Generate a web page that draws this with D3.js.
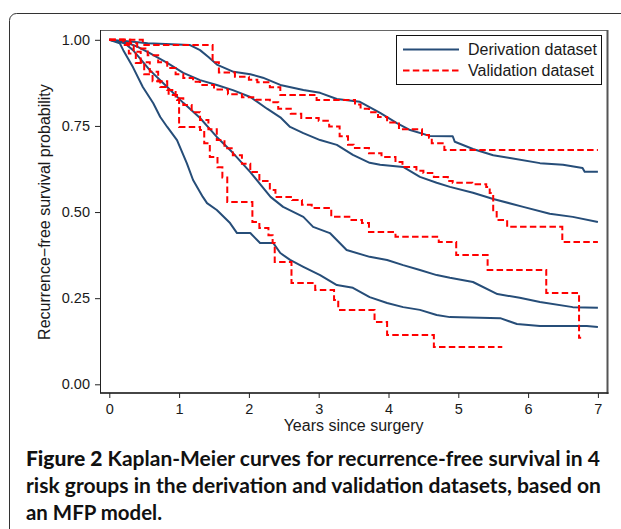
<!DOCTYPE html>
<html>
<head>
<meta charset="utf-8">
<script src="https://cdn.jsdelivr.net/npm/d3@7"></script>
<style>
html,body{margin:0;padding:0;background:#fff;}
svg{display:block;}
</style>
</head>
<body>
<svg id="chart" width="621" height="529"></svg>
<script>
// ---- data ----
const xTicks = [0, 1, 2, 3, 4, 5, 6, 7];
const yTicks = [0, 0.25, 0.5, 0.75, 1];
const seriesNames = ["Derivation dataset", "Validation dataset"];
const xTitle = "Years since surgery";
const yTitle = "Recurrence\u2212free survival probability";
const captionBold = "Figure 2";
const captionLines = [
  " Kaplan-Meier curves for recurrence-free survival in 4",
  "risk groups in the derivation and validation datasets, based on",
  "an MFP model."
];

// Derivation dataset, 4 risk groups: [years, survival]
const deriv1 = [[0,1],[0.3,0.995],[0.55,0.99],[1.15,0.985],[1.3,0.97],[1.42,0.95],[1.55,0.927],[1.78,0.907],[2.02,0.9],[2.2,0.89],[2.45,0.869],[2.78,0.854],[3.02,0.846],[3.26,0.828],[3.59,0.82],[3.88,0.788],[4.12,0.758],[4.31,0.738],[4.59,0.721],[4.92,0.72],[4.95,0.704],[5.21,0.683],[5.5,0.665],[5.74,0.657],[6.17,0.642],[6.5,0.637],[6.78,0.628],[6.81,0.617],[7,0.617]];
const deriv2 = [[0,1],[0.27,0.99],[0.4,0.98],[0.58,0.961],[0.83,0.933],[1.06,0.904],[1.3,0.883],[1.54,0.869],[1.77,0.854],[2.02,0.834],[2.26,0.8],[2.45,0.775],[2.59,0.747],[2.78,0.729],[3.02,0.709],[3.26,0.695],[3.49,0.666],[3.73,0.643],[3.88,0.637],[4.21,0.631],[4.45,0.602],[4.69,0.585],[4.88,0.573],[5.21,0.556],[5.5,0.538],[5.93,0.515],[6.31,0.495],[6.64,0.486],[7,0.471]];
const deriv3 = [[0,1],[0.22,0.99],[0.34,0.97],[0.58,0.912],[0.83,0.863],[1.06,0.817],[1.3,0.773],[1.54,0.718],[1.77,0.672],[2.02,0.616],[2.31,0.544],[2.49,0.515],[2.78,0.486],[2.92,0.457],[3.16,0.439],[3.4,0.39],[3.73,0.37],[3.98,0.361],[4.21,0.346],[4.45,0.332],[4.69,0.317],[4.88,0.309],[5.21,0.297],[5.56,0.262],[5.88,0.251],[6.17,0.239],[6.64,0.224],[7,0.222]];
const deriv4 = [[0,1],[0.15,0.99],[0.2,0.97],[0.34,0.92],[0.48,0.863],[0.63,0.816],[0.73,0.776],[0.83,0.747],[0.97,0.709],[1.11,0.642],[1.2,0.593],[1.34,0.544],[1.4,0.526],[1.54,0.506],[1.73,0.468],[1.83,0.439],[2.02,0.439],[2.16,0.41],[2.35,0.41],[2.45,0.381],[2.59,0.361],[2.78,0.341],[3.02,0.317],[3.26,0.288],[3.49,0.28],[3.73,0.253],[3.98,0.236],[4.21,0.224],[4.45,0.216],[4.69,0.201],[4.88,0.195],[5.6,0.192],[5.84,0.175],[6.17,0.169],[6.84,0.169],[7,0.166]];

// Validation dataset, 4 risk groups: [time of step, survival after step]
const valid1 = [[0,1],[0.48,0.985],[1.48,0.935],[1.57,0.905],[1.8,0.893],[2.0,0.884],[2.12,0.877],[2.3,0.862],[2.45,0.84],[2.97,0.825],[3.52,0.812],[3.6,0.8],[3.72,0.79],[3.85,0.776],[3.98,0.76],[4.15,0.74],[4.48,0.724],[4.58,0.716],[4.62,0.7],[4.8,0.68],[7,0.68]];
const valid2 = [[0,1],[0.3,0.99],[0.4,0.975],[0.55,0.955],[0.7,0.935],[0.83,0.918],[0.95,0.9],[1.06,0.889],[1.2,0.878],[1.3,0.869],[1.5,0.856],[1.7,0.842],[1.9,0.833],[2.1,0.826],[2.3,0.819],[2.42,0.8],[2.6,0.785],[2.75,0.773],[3.0,0.765],[3.15,0.748],[3.3,0.72],[3.42,0.695],[3.5,0.686],[3.72,0.671],[3.9,0.66],[4.1,0.645],[4.2,0.631],[4.4,0.62],[4.5,0.613],[4.65,0.602],[4.85,0.59],[4.92,0.585],[5.2,0.581],[5.4,0.573],[5.45,0.555],[5.5,0.5],[5.55,0.477],[5.7,0.457],[6.49,0.413],[7,0.413]];
const valid3 = [[0,1],[0.25,0.99],[0.35,0.965],[0.45,0.935],[0.58,0.907],[0.7,0.88],[0.83,0.854],[0.95,0.83],[1.06,0.811],[1.18,0.79],[1.3,0.767],[1.42,0.74],[1.54,0.709],[1.65,0.685],[1.77,0.665],[1.9,0.64],[2.02,0.616],[2.15,0.59],[2.3,0.564],[2.38,0.544],[2.62,0.535],[2.76,0.521],[2.9,0.512],[3.18,0.486],[3.47,0.477],[3.62,0.468],[3.72,0.442],[4.1,0.428],[4.72,0.413],[4.97,0.375],[5.42,0.332],[6.26,0.265],[6.73,0.135],[6.76,0.135]];
const valid4 = [[0,1],[0.2,0.985],[0.28,0.96],[0.38,0.933],[0.5,0.9],[0.62,0.88],[0.73,0.863],[0.85,0.84],[0.97,0.825],[1.0,0.747],[1.3,0.738],[1.36,0.7],[1.44,0.66],[1.55,0.63],[1.62,0.6],[1.69,0.529],[2.05,0.471],[2.15,0.454],[2.28,0.433],[2.34,0.41],[2.37,0.355],[2.61,0.294],[2.95,0.274],[3.22,0.245],[3.28,0.216],[3.8,0.181],[3.98,0.143],[4.65,0.108],[5.63,0.108]];

const derivation = [deriv1, deriv2, deriv3, deriv4];
const validation = [valid1, valid2, valid3, valid4];

// ---- drawing ----
const svg = d3.select("#chart");
const blue = "#264d78", red = "#ff0000";
const axisFont = "'Liberation Sans', Arial, Helvetica, sans-serif";

// outer rounded frame
svg.append("rect").attr("x", 9.5).attr("y", 13.5).attr("width", 700).attr("height", 600)
  .attr("rx", 7).attr("fill", "#fff").attr("stroke", "#333").attr("stroke-width", 1);

const frame = {left: 100, top: 30, right: 607.5, bottom: 393};
const x = d3.scaleLinear().domain([0, 7]).range([109.3, 597.9]);
const y = d3.scaleLinear().domain([0, 1]).range([384.3, 39.8]);

// plot frame
svg.append("rect").attr("x", frame.left + 0.5).attr("y", frame.top + 0.5)
  .attr("width", frame.right - frame.left - 0.5).attr("height", frame.bottom - frame.top - 0.5)
  .attr("fill", "#fff").attr("stroke", "#666").attr("stroke-width", 1);
svg.append("line").attr("x1", frame.right).attr("x2", frame.right).attr("y1", frame.top).attr("y2", frame.bottom + 1)
  .attr("stroke", "#555").attr("stroke-width", 2);
svg.append("line").attr("x1", frame.left).attr("x2", frame.right + 1).attr("y1", frame.bottom).attr("y2", frame.bottom)
  .attr("stroke", "#222").attr("stroke-width", 1.6);
svg.append("line").attr("x1", frame.left + 0.5).attr("x2", frame.left + 0.5).attr("y1", frame.top).attr("y2", frame.bottom)
  .attr("stroke", "#222").attr("stroke-width", 1);

// axes
const yAxis = d3.axisLeft(y).tickValues(yTicks).tickFormat(d3.format(".2f")).tickSize(5).tickPadding(5);
const gy = svg.append("g").attr("transform", `translate(${frame.left},0)`).call(yAxis);
const xAxis = d3.axisBottom(x).tickValues(xTicks).tickFormat(d3.format("d")).tickSize(5).tickPadding(5.5);
const gx = svg.append("g").attr("transform", `translate(0,${frame.bottom})`).call(xAxis);
[gx, gy].forEach(g => {
  g.select(".domain").remove();
  g.selectAll(".tick line").attr("stroke", "#222").attr("stroke-width", 1);
  g.selectAll(".tick text").attr("fill", "#1a1a1a").style("font-family", axisFont).style("font-size", "14.5px");
});

svg.append("text").attr("x", 353.6).attr("y", 431).attr("text-anchor", "middle")
  .style("font-family", axisFont).style("font-size", "16px").attr("fill", "#1a1a1a").text(xTitle);
svg.append("text").attr("transform", `translate(50,${(y(0) + y(1)) / 2}) rotate(-90)`).attr("text-anchor", "middle")
  .style("font-family", axisFont).style("font-size", "16px").attr("fill", "#1a1a1a").text(yTitle);

// curves
const linePath = d3.line().x(d => x(d[0])).y(d => y(d[1])).curve(d3.curveLinear);
const stepPath = d3.line().x(d => x(d[0])).y(d => y(d[1])).curve(d3.curveStepAfter);

svg.append("g").selectAll("path").data(derivation).join("path")
  .attr("d", linePath).attr("fill", "none").attr("stroke", blue).attr("stroke-width", 2)
  .attr("stroke-linejoin", "round");
svg.append("g").selectAll("path").data(validation).join("path")
  .attr("d", stepPath).attr("fill", "none").attr("stroke", red).attr("stroke-width", 2)
  .attr("stroke-dasharray", "6.5,3.3");

// legend
const lg = svg.append("g");
lg.append("rect").attr("x", 396.5).attr("y", 35.5).attr("width", 205).attr("height", 49)
  .attr("fill", "#fff").attr("stroke", "#111").attr("stroke-width", 1);
const legendItems = [{name: seriesNames[0], color: blue, dash: null, yy: 49.5},
                     {name: seriesNames[1], color: red, dash: "6.5,3.3", yy: 70.5}];
legendItems.forEach(it => {
  lg.append("line").attr("x1", 403).attr("x2", 459).attr("y1", it.yy).attr("y2", it.yy)
    .attr("stroke", it.color).attr("stroke-width", 2).attr("stroke-dasharray", it.dash);
  lg.append("text").attr("x", 468).attr("y", it.yy + 5.6)
    .style("font-family", axisFont).style("font-size", "16px").attr("fill", "#1a1a1a").text(it.name);
});

// caption
const capFont = "Lato, 'Open Sans', sans-serif";
const capY = [466, 493, 520];
const capLen = [574, 575, 136];
captionLines.forEach((ln, i) => {
  const t = svg.append("text").attr("x", 26).attr("y", capY[i])
    .style("font-family", capFont).style("font-size", "20px").style("font-weight", 700)
    .attr("fill", "#111").attr("textLength", capLen[i]).attr("lengthAdjust", "spacingAndGlyphs");
  if (i === 0) {
    t.append("tspan").style("font-weight", 900).text(captionBold);
  }
  t.append("tspan").text(ln);
});
</script>
</body>
</html>
